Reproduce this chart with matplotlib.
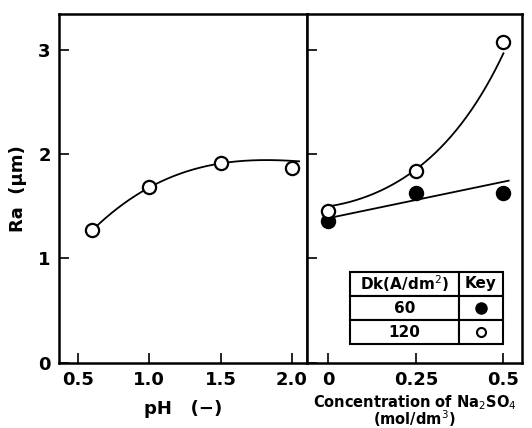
import numpy as np
import matplotlib
matplotlib.use('Agg')
import matplotlib.pyplot as plt

# Left panel: Ra vs pH
ph = [0.6, 1.0, 1.5, 2.0]
ra_ph = [1.27, 1.68, 1.91, 1.87]
# points the drawn fit curve passes through
ph_curve_x = [0.6, 1.0, 1.5, 2.05]
ph_curve_y = [1.27, 1.68, 1.91, 1.93]

# Right panel: Ra vs Na2SO4 concentration
conc = [0.0, 0.25, 0.5]
ra_60 = [1.36, 1.63, 1.63]
ra_120 = [1.45, 1.84, 3.07]
# drawn fit lines
line60_x = [0.02, 0.515]
line60_y = [1.40, 1.745]
curve120_x = [0.01, 0.13, 0.25, 0.368, 0.453, 0.49]
curve120_y = [1.49, 1.655, 1.84, 2.23, 2.61, 2.95]

ph_ticks = [0.5, 1.0, 1.5, 2.0]
ph_labels = ['0.5', '1.0', '1.5', '2.0']
conc_ticks = [0, 0.25, 0.5]
conc_labels = ['0', '0.25', '0.5']
ra_ticks = [0, 1, 2, 3]

plt.rcParams['font.family'] = 'DejaVu Sans'
fig = plt.figure(figsize=(5.32, 4.28), dpi=100)
ax1 = fig.add_axes([0.1109, 0.1519, 0.4662, 0.8154])
ax2 = fig.add_axes([0.5771, 0.1519, 0.4041, 0.8154], sharey=ax1)

lw = 1.3
mkw = dict(markersize=9.5, markeredgewidth=1.6, markeredgecolor='black', linestyle='none', zorder=3)

# left panel
c = np.polyfit(ph_curve_x, ph_curve_y, 3)
xs = np.linspace(ph_curve_x[0], ph_curve_x[-1], 200)
ax1.plot(xs, np.polyval(c, xs), color='black', lw=lw, zorder=2)
ax1.plot(ph, ra_ph, marker='o', markerfacecolor='white', **mkw)
ax1.set_xlim(0.367, 2.105)
ax1.set_ylim(0, 3.34)
ax1.set_xticks(ph_ticks)
ax1.set_xticklabels(ph_labels)
ax1.set_yticks(ra_ticks)
ax1.set_xlabel('pH   (−)', fontsize=13, fontweight='bold', labelpad=8)
ax1.set_ylabel('Ra  (μm)', fontsize=13, fontweight='bold', labelpad=8)

# right panel
ax2.plot(line60_x, line60_y, color='black', lw=lw, zorder=2)
c120 = np.polyfit(curve120_x, np.log(curve120_y), 2)
xs3 = np.linspace(curve120_x[0], 0.5, 200)
ax2.plot(xs3, np.exp(np.polyval(c120, xs3)), color='black', lw=lw, zorder=2)
ax2.plot(conc, ra_60, marker='o', markerfacecolor='black', **mkw)
ax2.plot(conc, ra_120, marker='o', markerfacecolor='white', **mkw)
ax2.set_xlim(-0.061, 0.553)
ax2.set_xticks(conc_ticks)
ax2.set_xticklabels(conc_labels)
ax2.tick_params(axis='y', labelleft=False)
ax2.set_xlabel('Concentration of Na$_2$SO$_4$\n(mol/dm$^3$)', fontsize=10.5,
               fontweight='bold', linespacing=0.75, labelpad=3)

for ax in (ax1, ax2):
    for s in ax.spines.values():
        s.set_linewidth(1.8)
    ax.tick_params(direction='in', length=7, width=1.2, labelsize=13, pad=6)
    for lab in ax.get_xticklabels() + ax.get_yticklabels():
        lab.set_fontweight('bold')

# key table
tab = ax2.table(cellText=[['Dk(A/dm$^2$)', 'Key'], ['60', ''], ['120', '']],
                cellLoc='center', colWidths=[0.712, 0.288],
                bbox=[0.2, 0.054, 0.712, 0.207])
tab.auto_set_font_size(False)
tab.set_fontsize(11)
for cell in tab.get_celld().values():
    cell.set_linewidth(1.5)
    cell.get_text().set_fontweight('bold')
ax2.plot([0.81], [0.157], transform=ax2.transAxes, marker='o', markersize=8,
         markerfacecolor='black', markeredgecolor='black', clip_on=False, zorder=5)
ax2.plot([0.81], [0.088], transform=ax2.transAxes, marker='o', markersize=6.5,
         markerfacecolor='white', markeredgecolor='black', markeredgewidth=1.5,
         clip_on=False, zorder=5)

fig.savefig('out.png', dpi=100)
